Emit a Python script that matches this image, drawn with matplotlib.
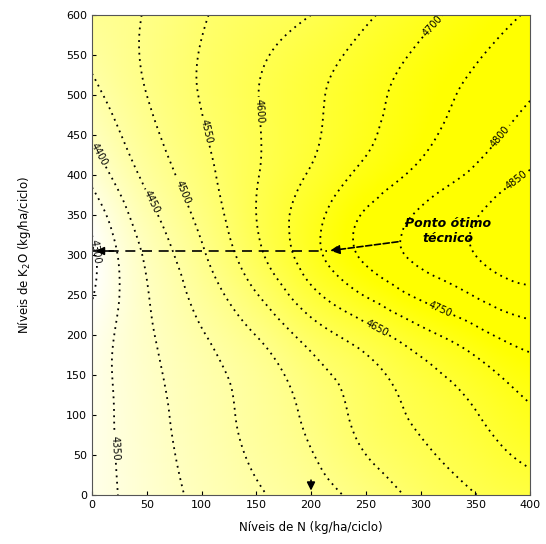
import numpy as np
import matplotlib
matplotlib.use('Agg')
import matplotlib.pyplot as plt
import matplotlib.tri as mtri
from matplotlib.colors import LinearSegmentedColormap

# niveis de N (colunas) e de K2O (linhas), kg/ha/ciclo
niveis_n = [0, 50, 100, 150, 200, 250, 300, 350, 400]
niveis_k = [0, 100, 200, 300, 400, 500, 600]

# produtividade estimada (linha = nivel de K2O)
prod_k0 = [4330, 4372, 4412, 4444, 4477, 4518, 4564, 4599, 4625]
prod_k100 = [4327, 4381, 4425, 4465, 4512, 4567, 4609, 4647, 4692]
prod_k200 = [4318, 4392, 4446, 4501, 4572, 4627, 4683, 4733, 4775]
prod_k300 = [4290, 4408, 4492, 4586, 4680, 4760, 4812, 4850, 4880]
prod_k400 = [4365, 4462, 4532, 4597, 4655, 4715, 4765, 4810, 4855]
prod_k500 = [4436, 4500, 4553, 4598, 4640, 4683, 4725, 4762, 4797]
prod_k600 = [4480, 4503, 4545, 4575, 4600, 4642, 4683, 4723, 4755]

niveis_contorno = list(range(4300, 4900, 50))

# ponto otimo tecnico
n_otimo, k_otimo = 215, 305
n_seta = 200


def superficie():
    z = np.array([prod_k0, prod_k100, prod_k200, prod_k300,
                  prod_k400, prod_k500, prod_k600], dtype=float)
    nn, kk = np.meshgrid(niveis_n, niveis_k)
    tri = mtri.Triangulation(nn.ravel(), kk.ravel())
    interp = mtri.CubicTriInterpolator(tri, z.ravel(), kind='min_E')
    xn = np.linspace(0, 400, 201)
    yk = np.linspace(0, 600, 301)
    XN, YK = np.meshgrid(xn, yk)
    return XN, YK, interp(XN, YK)


def plot():
    XN, YK, Z = superficie()
    fig = plt.figure(figsize=(5.46, 5.44), dpi=100)
    ax = fig.add_axes([0.1685, 0.0901, 0.8022, 0.8823])

    cmap = LinearSegmentedColormap.from_list('branco_amarelo', ['#ffffff', '#ffff00'])
    ax.imshow(Z, origin='lower', extent=[0, 400, 0, 600], aspect='auto',
              cmap=cmap, vmin=4290, vmax=4740, interpolation='bilinear')
    cs = ax.contour(XN, YK, Z, levels=niveis_contorno, colors='k',
                    linestyles=[(0, (1, 2.5))], linewidths=1.3)
    ax.clabel(cs, fmt='%d', fontsize=7, inline=True, inline_spacing=2)

    ax.plot([0, n_otimo], [k_otimo, k_otimo], color='k', linestyle=(0, (6, 4)), linewidth=1.2)
    ax.annotate('', xy=(1, k_otimo), xytext=(22, k_otimo),
                arrowprops=dict(arrowstyle='-|>', color='k', lw=1.2, mutation_scale=12))
    ax.annotate('', xy=(n_seta, 2), xytext=(n_seta, 22),
                arrowprops=dict(arrowstyle='-|>', color='k', lw=1.2, mutation_scale=12))
    ax.annotate('', xy=(n_otimo, k_otimo), xytext=(282, 317),
                arrowprops=dict(arrowstyle='-|>', color='k', lw=1.2, linestyle='--',
                                mutation_scale=14))
    ax.text(325, 330, 'Ponto ótimo\ntécnico', ha='center', va='center',
            fontsize=9, fontweight='bold', fontstyle='italic')

    ax.set_xlim(0, 400)
    ax.set_ylim(0, 600)
    ax.set_xticks(range(0, 401, 50))
    ax.set_yticks(range(0, 601, 50))
    ax.tick_params(direction='in', labelsize=8, length=3)
    ax.set_xlabel('Níveis de N (kg/ha/ciclo)', fontsize=8.5, labelpad=8)
    ax.set_ylabel('Níveis de K$_2$O (kg/ha/ciclo)', fontsize=8.5, labelpad=24)
    for s in ax.spines.values():
        s.set_color('#555555')
    fig.savefig('out.png')


if __name__ == '__main__':
    plot()
